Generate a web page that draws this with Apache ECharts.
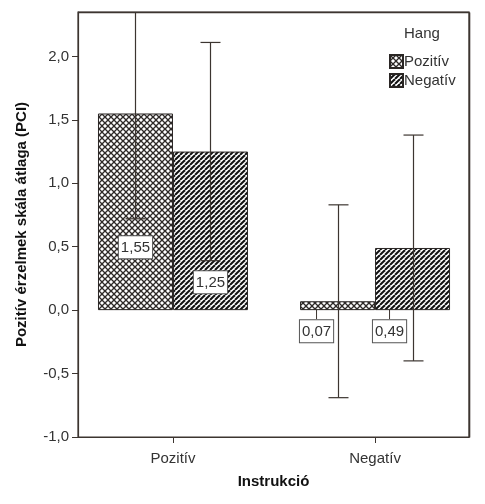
<!DOCTYPE html>
<html>
<head>
<meta charset="utf-8">
<script src="https://cdn.jsdelivr.net/npm/echarts@6/dist/echarts.min.js"></script>
<style>html,body{margin:0;padding:0;background:#fff}#c{width:485px;height:504px}</style>
</head>
<body>
<div id="c"></div>
<script>
// ---- data ----
const categories = ['Pozitív', 'Negatív'];          // Instrukció
const groupNames = ['Pozitív', 'Negatív'];          // Hang
const meansPozitiv = [1.55, 0.07];
const meansNegativ = [1.25, 0.49];
const lowPozitiv = [0.72, -0.69];
const highPozitiv = [2.38, 0.83];
const lowNegativ = [0.39, -0.40];
const highNegativ = [2.11, 1.38];
const yTickValues = [-1.0, -0.5, 0.0, 0.5, 1.0, 1.5, 2.0];
const xTickValues = [0, 1];

// ---- styling ----
const LINE = '#3c3530';
const TXT = '#333333';
const FONT = '"Liberation Sans", Arial, sans-serif';
const FS = 15;
const X_MIN = -0.47, X_MAX = 1.465, Y_MIN = -1, Y_MAX = 2.35;

function makeCross() {
  const s = 6, c = document.createElement('canvas');
  c.width = s; c.height = s;
  const g = c.getContext('2d');
  g.fillStyle = '#fff'; g.fillRect(0, 0, s, s);
  g.strokeStyle = '#2e2a28'; g.lineWidth = 1.3;
  for (let k = -1; k <= 1; k++) {
    g.beginPath(); g.moveTo(k * s, 0); g.lineTo(k * s + s, s); g.stroke();
    g.beginPath(); g.moveTo(k * s, s); g.lineTo(k * s + s, 0); g.stroke();
  }
  return c;
}
function makeStripes() {
  const s = 5, c = document.createElement('canvas');
  c.width = s; c.height = s;
  const g = c.getContext('2d');
  g.fillStyle = '#fff'; g.fillRect(0, 0, s, s);
  g.strokeStyle = '#111'; g.lineWidth = 2.0;
  for (let k = -1; k <= 1; k++) {
    g.beginPath(); g.moveTo(k * s, s); g.lineTo(k * s + s, 0); g.stroke();
  }
  return c;
}
const patterns = [
  { image: makeCross(), repeat: 'repeat' },
  { image: makeStripes(), repeat: 'repeat' }
];

// label placement per group / category (style only)
const labelPlacement = [
  [{ position: 'insideBottom', distance: 52 }, { position: 'bottom', distance: 10, dx: -21 }],
  [{ position: 'insideBottom', distance: 17 }, { position: 'bottom', distance: 10, dx: -23 }]
];

const fmt2 = v => v.toFixed(2).replace('.', ',');
const fmt1 = v => v.toFixed(1).replace('.', ',');

const means = [meansPozitiv, meansNegativ];
const lows = [lowPozitiv, lowNegativ];
const highs = [highPozitiv, highNegativ];
const BARW = 75;

const barSeries = groupNames.map((name, gi) => ({
  name: name,
  type: 'bar',
  barWidth: BARW,
  barGap: '0%',
  itemStyle: { color: patterns[gi], borderColor: '#2a2624', borderWidth: 1 },
  data: categories.map((c, ci) => ({
    value: [ci, means[gi][ci]],
    label: {
      show: true,
      position: labelPlacement[gi][ci].position,
      distance: labelPlacement[gi][ci].distance
    }
  })),
  label: {
    show: true,
    formatter: p => fmt2(p.value[1]),
    color: TXT, fontFamily: FONT, fontSize: FS,
    backgroundColor: '#fff', borderColor: '#555', borderWidth: 1,
    padding: [4, 2, 3, 2]
  },
  labelLine: { show: true, lineStyle: { color: LINE, width: 1 } },
  labelLayout: p => {
    const d = labelPlacement[gi][p.dataIndex].dx;
    return d ? { dx: d } : {};
  },
  z: 2
}));

const errSeries = groupNames.map((name, gi) => ({
  type: 'custom',
  silent: true,
  clip: true,
  z: 3,
  data: categories.map((c, ci) => [ci, lows[gi][ci], highs[gi][ci]]),
  renderItem: (params, api) => {
    const xi = api.value(0);
    const lo = api.coord([xi, api.value(1)]);
    const hi = api.coord([xi, api.value(2)]);
    const cx = Math.round(lo[0] + (gi === 0 ? -BARW / 2 : BARW / 2)) + 0.5;
    const cap = 10;
    const st = { stroke: LINE, lineWidth: 1.2 };
    return {
      type: 'group',
      children: [
        { type: 'line', shape: { x1: cx, y1: lo[1], x2: cx, y2: hi[1] }, style: st },
        { type: 'line', shape: { x1: cx - cap, y1: lo[1], x2: cx + cap, y2: lo[1] }, style: st },
        { type: 'line', shape: { x1: cx - cap, y1: hi[1], x2: cx + cap, y2: hi[1] }, style: st }
      ]
    };
  }
}));

// frame: top and right edges drawn by a custom series through the axes' scale
const frameSeries = {
  type: 'custom',
  silent: true,
  clip: false,
  z: 10,
  data: [[X_MIN, Y_MIN, X_MAX, Y_MAX]],
  renderItem: (params, api) => {
    const a = api.coord([api.value(0), api.value(3)]);
    const b = api.coord([api.value(2), api.value(1)]);
    const x1 = Math.round(a[0]) + 0.5, y1 = Math.round(a[1]) + 0.5;
    const x2 = Math.round(b[0]) + 0.5, y2 = Math.round(b[1]) + 0.5;
    const st = { stroke: LINE, lineWidth: 1.6 };
    return {
      type: 'group',
      children: [
        { type: 'line', shape: { x1: x1, y1: y1, x2: x2, y2: y1 }, style: st },
        { type: 'line', shape: { x1: x2, y1: y1, x2: x2, y2: y2 }, style: st }
      ]
    };
  }
};

const chart = echarts.init(document.getElementById('c'), null, { renderer: 'canvas' });
chart.setOption({
  animation: false,
  backgroundColor: '#fff',
  textStyle: { fontFamily: FONT },
  grid: { left: 78, right: 16, top: 12, bottom: 67, show: true, borderColor: LINE, borderWidth: 1.2, backgroundColor: 'transparent', outerBoundsMode: 'none' },
  xAxis: {
    type: 'value',
    min: X_MIN, max: X_MAX,
    name: 'Instrukció', nameLocation: 'middle', nameGap: 37,
    nameTextStyle: { fontWeight: 'bold', fontSize: FS, color: '#111', fontFamily: FONT },
    axisLine: { show: true, onZero: false, lineStyle: { color: LINE, width: 1.2 } },
    axisTick: { show: true, length: 6, lineStyle: { color: LINE }, customValues: xTickValues },
    axisLabel: { customValues: xTickValues, formatter: v => categories[Math.round(v)], color: TXT, fontSize: FS, margin: 14, fontFamily: FONT },
    splitLine: { show: false }
  },
  yAxis: {
    type: 'value',
    min: Y_MIN, max: Y_MAX,
    name: 'Pozitív érzelmek skála átlaga (PCI)', nameLocation: 'middle', nameGap: 49,
    nameTextStyle: { fontWeight: 'bold', fontSize: FS, color: '#111', fontFamily: FONT },
    axisLine: { show: true, onZero: false, lineStyle: { color: LINE, width: 1.2 } },
    axisTick: { show: true, length: 6, lineStyle: { color: LINE }, customValues: yTickValues },
    axisLabel: { customValues: yTickValues, formatter: v => fmt1(v), color: TXT, fontSize: FS, margin: 9, fontFamily: FONT },
    splitLine: { show: false }
  },
  legend: {
    orient: 'vertical',
    left: 389, top: 54,
    itemWidth: 13, itemHeight: 13, itemGap: 4,
    padding: 0,
    icon: 'rect',
    data: groupNames,
    textStyle: { fontSize: FS, color: TXT, fontFamily: FONT, padding: [0, 0, 0, -4] }
  },
  graphic: [{
    type: 'text', left: 404, top: 26,
    style: { text: 'Hang', fontSize: FS, fill: TXT, fontFamily: FONT }
  }],
  series: barSeries.concat(errSeries, [frameSeries])
});
</script>
</body>
</html>
